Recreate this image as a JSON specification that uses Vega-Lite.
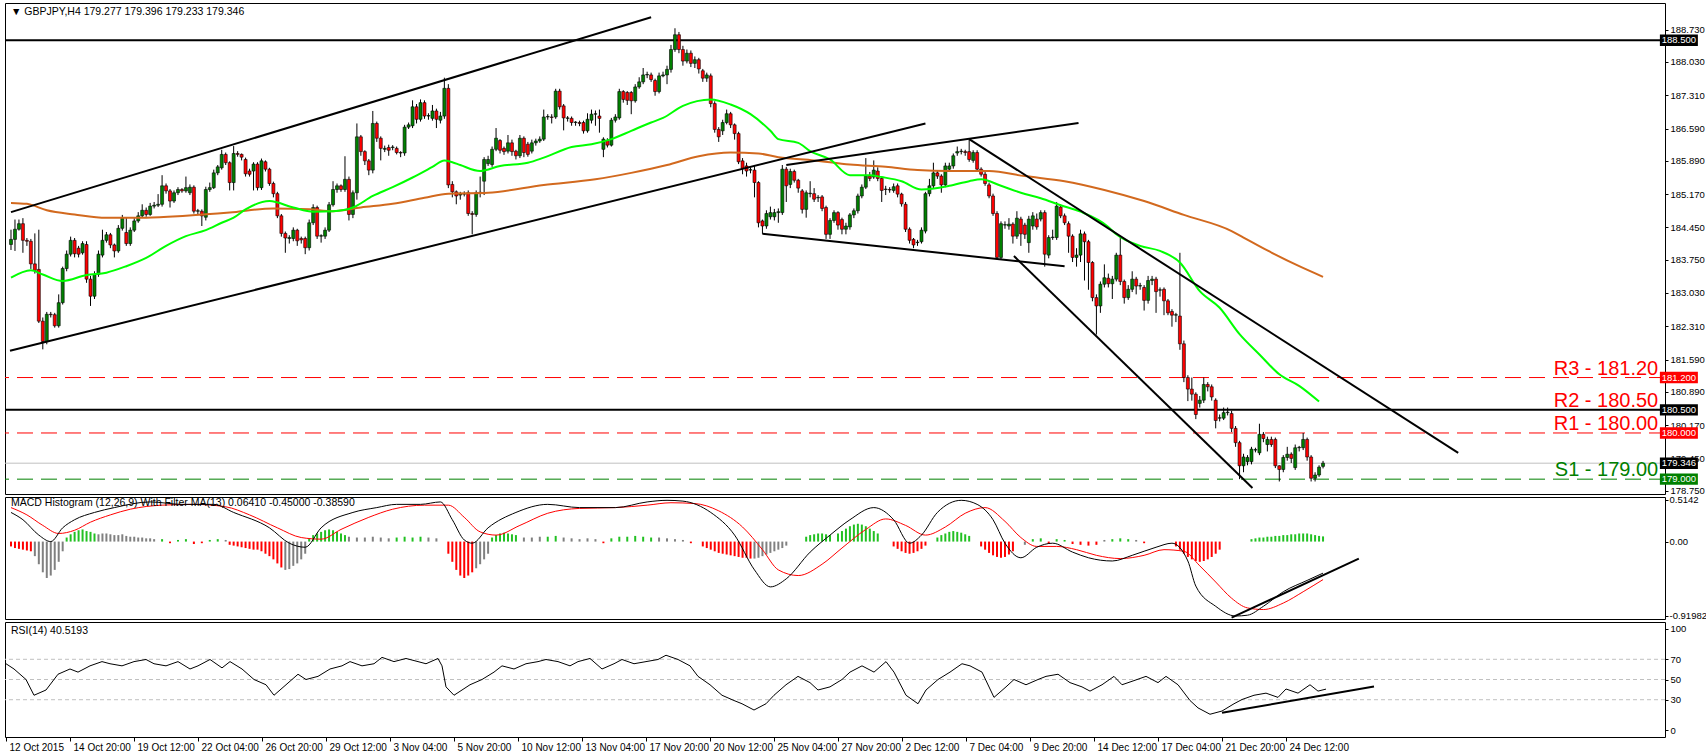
{
"$schema":"https://vega.github.io/schema/vega-lite/v6.json",
"background":"white",
"padding":{"left":3,"top":2,"right":0,"bottom":0},
"spacing":3,
"bounds":"flush",
"config":{"view":{"stroke":"black","strokeWidth":1},"axis":{"labelFont":"Liberation Sans","labelFontSize":9.5,"labelColor":"black","tickColor":"black","domain":false,"grid":false,"labelOverlap":false},"text":{"font":"Liberation Sans"}},
"datasets":{
"candles":[
{"i":0,"o":184.08,"h":184.40,"l":183.96,"c":184.19},{"i":1,"o":184.19,"h":184.62,"l":183.94,"c":184.41},{"i":2,"o":184.41,"h":184.62,"l":184.38,"c":184.53},{"i":3,"o":184.53,"h":184.65,"l":183.90,"c":184.17},{"i":4,"o":184.17,"h":184.22,"l":184.05,"c":184.15},{"i":5,"o":184.15,"h":184.20,"l":183.55,"c":183.66},{"i":6,"o":183.66,"h":184.32,"l":183.45,"c":183.52},{"i":7,"o":183.54,"h":184.40,"l":182.38,"c":182.42},{"i":8,"o":182.42,"h":182.50,"l":181.81,"c":181.98},{"i":9,"o":181.98,"h":182.62,"l":181.92,"c":182.57},
{"i":10,"o":182.57,"h":182.62,"l":182.50,"c":182.56},{"i":11,"o":182.56,"h":182.60,"l":182.28,"c":182.32},{"i":12,"o":182.32,"h":183.00,"l":182.28,"c":182.82},{"i":13,"o":182.82,"h":183.60,"l":182.78,"c":183.56},{"i":14,"o":183.56,"h":183.95,"l":183.50,"c":183.87},{"i":15,"o":183.87,"h":184.25,"l":183.82,"c":184.17},{"i":16,"o":184.17,"h":184.22,"l":183.80,"c":183.88},{"i":17,"o":184.00,"h":184.05,"l":183.80,"c":183.87},{"i":18,"o":183.90,"h":184.15,"l":183.86,"c":184.10},{"i":19,"o":184.08,"h":184.15,"l":183.25,"c":183.33},
{"i":20,"o":183.33,"h":183.40,"l":182.75,"c":182.96},{"i":21,"o":182.96,"h":183.50,"l":182.90,"c":183.43},{"i":22,"o":183.43,"h":183.95,"l":183.38,"c":183.87},{"i":23,"o":183.85,"h":184.40,"l":183.80,"c":184.17},{"i":24,"o":184.17,"h":184.35,"l":184.12,"c":184.29},{"i":25,"o":184.29,"h":184.33,"l":184.00,"c":184.07},{"i":26,"o":184.07,"h":184.10,"l":183.80,"c":183.94},{"i":27,"o":183.94,"h":184.50,"l":183.90,"c":184.43},{"i":28,"o":184.43,"h":184.72,"l":184.38,"c":184.65},{"i":29,"o":184.34,"h":184.66,"l":184.05,"c":184.10},
{"i":30,"o":184.10,"h":184.45,"l":184.05,"c":184.39},{"i":31,"o":184.39,"h":184.65,"l":184.35,"c":184.59},{"i":32,"o":184.59,"h":184.78,"l":184.55,"c":184.70},{"i":33,"o":184.70,"h":184.95,"l":184.66,"c":184.82},{"i":34,"o":184.82,"h":184.88,"l":184.68,"c":184.73},{"i":35,"o":184.73,"h":184.98,"l":184.70,"c":184.91},{"i":36,"o":184.91,"h":185.00,"l":184.86,"c":184.93},{"i":37,"o":184.93,"h":185.17,"l":184.89,"c":184.95},{"i":38,"o":184.95,"h":185.58,"l":184.90,"c":185.35},{"i":39,"o":185.35,"h":185.40,"l":185.18,"c":185.24},
{"i":40,"o":185.24,"h":185.28,"l":184.88,"c":185.02},{"i":41,"o":185.02,"h":185.25,"l":184.98,"c":185.20},{"i":42,"o":185.20,"h":185.32,"l":185.15,"c":185.27},{"i":43,"o":185.27,"h":185.30,"l":185.20,"c":185.24},{"i":44,"o":185.24,"h":185.55,"l":185.20,"c":185.31},{"i":45,"o":185.20,"h":185.38,"l":185.15,"c":185.32},{"i":46,"o":185.32,"h":185.36,"l":184.75,"c":184.80},{"i":47,"o":184.80,"h":184.85,"l":184.72,"c":184.81},{"i":48,"o":184.80,"h":184.84,"l":184.48,"c":184.70},{"i":49,"o":184.67,"h":185.33,"l":184.60,"c":185.27},
{"i":50,"o":185.27,"h":185.42,"l":185.22,"c":185.31},{"i":51,"o":185.31,"h":185.70,"l":185.28,"c":185.63},{"i":52,"o":185.63,"h":185.80,"l":185.58,"c":185.76},{"i":53,"o":185.74,"h":186.13,"l":185.70,"c":186.03},{"i":54,"o":186.03,"h":186.07,"l":185.80,"c":185.85},{"i":55,"o":185.85,"h":185.88,"l":185.25,"c":185.42},{"i":56,"o":185.42,"h":186.21,"l":185.25,"c":186.05},{"i":57,"o":186.05,"h":186.10,"l":185.98,"c":186.03},{"i":58,"o":186.03,"h":186.05,"l":185.90,"c":185.97},{"i":59,"o":185.92,"h":185.96,"l":185.55,"c":185.61},
{"i":60,"o":185.67,"h":185.72,"l":185.55,"c":185.60},{"i":61,"o":185.67,"h":185.86,"l":185.25,"c":185.82},{"i":62,"o":185.82,"h":185.86,"l":185.25,"c":185.31},{"i":63,"o":185.31,"h":185.94,"l":185.26,"c":185.89},{"i":64,"o":185.87,"h":185.90,"l":185.66,"c":185.71},{"i":65,"o":185.71,"h":185.74,"l":185.35,"c":185.40},{"i":66,"o":185.40,"h":185.44,"l":185.10,"c":185.18},{"i":67,"o":185.18,"h":185.22,"l":184.65,"c":184.70},{"i":68,"o":184.70,"h":184.74,"l":184.25,"c":184.32},{"i":69,"o":184.32,"h":184.36,"l":183.90,"c":184.22},
{"i":70,"o":184.21,"h":184.28,"l":184.10,"c":184.23},{"i":71,"o":184.21,"h":184.45,"l":184.15,"c":184.39},{"i":72,"o":184.39,"h":184.42,"l":184.05,"c":184.16},{"i":73,"o":184.21,"h":184.25,"l":184.10,"c":184.18},{"i":74,"o":184.21,"h":184.25,"l":183.87,"c":184.01},{"i":75,"o":184.01,"h":184.62,"l":183.95,"c":184.55},{"i":76,"o":184.55,"h":184.95,"l":184.50,"c":184.88},{"i":77,"o":184.88,"h":184.92,"l":184.20,"c":184.26},{"i":78,"o":184.26,"h":184.30,"l":184.12,"c":184.27},{"i":79,"o":184.26,"h":184.45,"l":184.20,"c":184.39},
{"i":80,"o":184.39,"h":185.00,"l":184.35,"c":184.94},{"i":81,"o":184.94,"h":185.45,"l":184.90,"c":185.27},{"i":82,"o":185.27,"h":185.40,"l":185.20,"c":185.35},{"i":83,"o":185.35,"h":185.38,"l":185.22,"c":185.27},{"i":84,"o":185.27,"h":185.99,"l":185.22,"c":185.49},{"i":85,"o":185.49,"h":185.55,"l":184.60,"c":184.73},{"i":86,"o":184.73,"h":185.25,"l":184.65,"c":185.20},{"i":87,"o":185.20,"h":186.70,"l":185.05,"c":186.41},{"i":88,"o":186.41,"h":186.45,"l":186.00,"c":186.09},{"i":89,"o":186.09,"h":186.12,"l":185.80,"c":185.89},
{"i":90,"o":185.89,"h":185.93,"l":185.58,"c":185.69},{"i":91,"o":185.69,"h":186.97,"l":185.62,"c":186.70},{"i":92,"o":186.70,"h":186.74,"l":186.30,"c":186.38},{"i":93,"o":186.38,"h":186.42,"l":185.90,"c":186.16},{"i":94,"o":186.14,"h":186.22,"l":186.08,"c":186.16},{"i":95,"o":186.18,"h":186.24,"l":186.00,"c":186.12},{"i":96,"o":186.18,"h":186.23,"l":186.12,"c":186.19},{"i":97,"o":186.16,"h":186.20,"l":186.03,"c":186.07},{"i":98,"o":186.07,"h":186.10,"l":185.97,"c":186.06},{"i":99,"o":186.06,"h":186.67,"l":186.00,"c":186.62},
{"i":100,"o":186.62,"h":186.72,"l":186.58,"c":186.67},{"i":101,"o":186.65,"h":187.20,"l":186.60,"c":187.06},{"i":102,"o":187.06,"h":187.12,"l":186.70,"c":186.79},{"i":103,"o":186.79,"h":187.22,"l":186.74,"c":187.15},{"i":104,"o":187.15,"h":187.20,"l":186.80,"c":186.86},{"i":105,"o":186.86,"h":186.92,"l":186.78,"c":186.87},{"i":106,"o":186.81,"h":187.10,"l":186.76,"c":186.97},{"i":107,"o":186.97,"h":187.02,"l":186.60,"c":186.79},{"i":108,"o":186.77,"h":186.95,"l":186.70,"c":186.86},{"i":109,"o":186.86,"h":187.69,"l":186.80,"c":187.46},
{"i":110,"o":187.46,"h":187.55,"l":185.30,"c":185.37},{"i":111,"o":185.38,"h":185.45,"l":185.10,"c":185.22},{"i":112,"o":185.22,"h":185.25,"l":184.95,"c":185.13},{"i":113,"o":185.15,"h":185.22,"l":185.05,"c":185.17},{"i":114,"o":185.17,"h":185.23,"l":185.12,"c":185.18},{"i":115,"o":185.20,"h":185.25,"l":184.70,"c":184.75},{"i":116,"o":184.75,"h":184.80,"l":184.30,"c":184.73},{"i":117,"o":184.73,"h":185.25,"l":184.68,"c":185.20},{"i":118,"o":185.20,"h":185.55,"l":185.10,"c":185.21},{"i":119,"o":185.45,"h":185.97,"l":185.15,"c":185.92},
{"i":120,"o":185.83,"h":186.00,"l":185.78,"c":185.92},{"i":121,"o":185.81,"h":186.20,"l":185.76,"c":186.14},{"i":122,"o":186.14,"h":186.60,"l":186.10,"c":186.38},{"i":123,"o":186.33,"h":186.36,"l":186.05,"c":186.12},{"i":124,"o":186.16,"h":186.20,"l":186.02,"c":186.09},{"i":125,"o":186.10,"h":186.45,"l":186.05,"c":186.28},{"i":126,"o":186.28,"h":186.35,"l":186.00,"c":186.09},{"i":127,"o":186.10,"h":186.13,"l":185.92,"c":186.00},{"i":128,"o":186.00,"h":186.45,"l":185.95,"c":186.38},{"i":129,"o":186.38,"h":186.42,"l":185.97,"c":186.07},
{"i":130,"o":186.25,"h":186.30,"l":185.98,"c":186.03},{"i":131,"o":186.10,"h":186.35,"l":186.05,"c":186.28},{"i":132,"o":186.28,"h":186.37,"l":186.22,"c":186.32},{"i":133,"o":186.32,"h":186.42,"l":186.28,"c":186.36},{"i":134,"o":186.36,"h":187.00,"l":186.32,"c":186.84},{"i":135,"o":186.84,"h":186.90,"l":186.78,"c":186.85},{"i":136,"o":186.84,"h":186.90,"l":186.70,"c":186.83},{"i":137,"o":186.84,"h":187.45,"l":186.80,"c":187.40},{"i":138,"o":187.40,"h":187.45,"l":187.00,"c":187.06},{"i":139,"o":187.08,"h":187.12,"l":186.55,"c":186.82},
{"i":140,"o":186.81,"h":186.86,"l":186.74,"c":186.82},{"i":141,"o":186.81,"h":186.85,"l":186.65,"c":186.72},{"i":142,"o":186.72,"h":186.75,"l":186.65,"c":186.73},{"i":143,"o":186.72,"h":186.76,"l":186.64,"c":186.70},{"i":144,"o":186.72,"h":186.76,"l":186.48,"c":186.54},{"i":145,"o":186.54,"h":186.92,"l":186.50,"c":186.79},{"i":146,"o":186.77,"h":187.00,"l":186.70,"c":186.90},{"i":147,"o":186.90,"h":186.98,"l":186.65,"c":186.91},{"i":148,"o":186.86,"h":187.00,"l":186.50,"c":186.81},{"i":149,"o":186.14,"h":186.40,"l":185.97,"c":186.36},
{"i":150,"o":186.33,"h":186.38,"l":186.18,"c":186.23},{"i":151,"o":186.23,"h":186.82,"l":186.20,"c":186.77},{"i":152,"o":186.77,"h":186.90,"l":186.72,"c":186.84},{"i":153,"o":186.82,"h":187.45,"l":186.78,"c":187.39},{"i":154,"o":187.39,"h":187.42,"l":187.15,"c":187.22},{"i":155,"o":187.37,"h":187.40,"l":187.10,"c":187.20},{"i":156,"o":187.37,"h":187.40,"l":186.90,"c":187.19},{"i":157,"o":187.19,"h":187.55,"l":187.15,"c":187.49},{"i":158,"o":187.49,"h":187.70,"l":187.45,"c":187.60},{"i":159,"o":187.60,"h":187.90,"l":187.55,"c":187.75},
{"i":160,"o":187.75,"h":187.82,"l":187.68,"c":187.76},{"i":161,"o":187.75,"h":187.80,"l":187.60,"c":187.65},{"i":162,"o":187.63,"h":187.67,"l":187.30,"c":187.39},{"i":163,"o":187.39,"h":187.80,"l":187.35,"c":187.73},{"i":164,"o":187.73,"h":187.82,"l":187.70,"c":187.75},{"i":165,"o":187.75,"h":187.95,"l":187.55,"c":187.87},{"i":166,"o":187.87,"h":188.40,"l":187.80,"c":188.30},{"i":167,"o":188.30,"h":188.76,"l":188.25,"c":188.62},{"i":168,"o":188.62,"h":188.68,"l":188.22,"c":188.30},{"i":169,"o":188.30,"h":188.38,"l":187.95,"c":188.05},
{"i":170,"o":188.05,"h":188.30,"l":188.00,"c":188.22},{"i":171,"o":188.22,"h":188.28,"l":187.92,"c":188.00},{"i":172,"o":188.00,"h":188.15,"l":187.90,"c":188.08},{"i":173,"o":188.08,"h":188.12,"l":187.78,"c":187.88},{"i":174,"o":187.84,"h":187.88,"l":187.60,"c":187.68},{"i":175,"o":187.68,"h":187.80,"l":187.60,"c":187.75},{"i":176,"o":187.73,"h":187.78,"l":187.05,"c":187.13},{"i":177,"o":187.13,"h":187.18,"l":186.50,"c":186.57},{"i":178,"o":186.57,"h":186.62,"l":186.30,"c":186.41},{"i":179,"o":186.54,"h":186.78,"l":186.45,"c":186.72},
{"i":180,"o":186.72,"h":187.00,"l":186.68,"c":186.91},{"i":181,"o":186.91,"h":186.95,"l":186.60,"c":186.67},{"i":182,"o":186.67,"h":186.70,"l":186.35,"c":186.48},{"i":183,"o":186.48,"h":186.52,"l":185.82,"c":185.87},{"i":184,"o":185.89,"h":185.95,"l":185.60,"c":185.73},{"i":185,"o":185.78,"h":185.85,"l":185.55,"c":185.67},{"i":186,"o":185.69,"h":185.75,"l":185.62,"c":185.70},{"i":187,"o":185.69,"h":185.80,"l":185.10,"c":185.42},{"i":188,"o":185.42,"h":185.45,"l":184.45,"c":184.55},{"i":189,"o":184.59,"h":184.62,"l":184.31,"c":184.48},
{"i":190,"o":184.48,"h":184.82,"l":184.42,"c":184.75},{"i":191,"o":184.68,"h":184.90,"l":184.62,"c":184.77},{"i":192,"o":184.68,"h":184.85,"l":184.60,"c":184.77},{"i":193,"o":184.77,"h":184.86,"l":184.55,"c":184.79},{"i":194,"o":184.77,"h":185.80,"l":184.72,"c":185.71},{"i":195,"o":185.71,"h":185.76,"l":185.00,"c":185.35},{"i":196,"o":185.38,"h":185.72,"l":185.30,"c":185.66},{"i":197,"o":185.66,"h":185.70,"l":185.42,"c":185.47},{"i":198,"o":185.47,"h":185.50,"l":185.20,"c":185.30},{"i":199,"o":185.24,"h":185.28,"l":184.75,"c":184.84},
{"i":200,"o":184.84,"h":185.25,"l":184.66,"c":185.20},{"i":201,"o":185.18,"h":185.45,"l":185.10,"c":185.19},{"i":202,"o":185.18,"h":185.30,"l":185.00,"c":185.06},{"i":203,"o":185.09,"h":185.15,"l":185.00,"c":185.10},{"i":204,"o":185.11,"h":185.15,"l":184.80,"c":184.86},{"i":205,"o":184.88,"h":184.92,"l":184.20,"c":184.30},{"i":206,"o":184.30,"h":184.65,"l":184.20,"c":184.60},{"i":207,"o":184.60,"h":184.82,"l":184.55,"c":184.77},{"i":208,"o":184.77,"h":184.80,"l":184.40,"c":184.50},{"i":209,"o":184.62,"h":184.66,"l":184.30,"c":184.41},
{"i":210,"o":184.41,"h":184.55,"l":184.30,"c":184.48},{"i":211,"o":184.46,"h":184.76,"l":184.40,"c":184.72},{"i":212,"o":184.72,"h":184.86,"l":184.65,"c":184.81},{"i":213,"o":184.81,"h":185.18,"l":184.75,"c":185.13},{"i":214,"o":185.13,"h":185.38,"l":185.08,"c":185.32},{"i":215,"o":185.32,"h":185.95,"l":185.28,"c":185.56},{"i":216,"o":185.56,"h":185.65,"l":185.45,"c":185.51},{"i":217,"o":185.54,"h":185.90,"l":185.50,"c":185.69},{"i":218,"o":185.67,"h":185.75,"l":185.45,"c":185.51},{"i":219,"o":185.51,"h":185.55,"l":185.00,"c":185.25},
{"i":220,"o":185.27,"h":185.35,"l":185.15,"c":185.28},{"i":221,"o":185.27,"h":185.32,"l":185.20,"c":185.26},{"i":222,"o":185.25,"h":185.40,"l":185.20,"c":185.33},{"i":223,"o":185.35,"h":185.40,"l":185.10,"c":185.17},{"i":224,"o":185.17,"h":185.20,"l":184.90,"c":184.96},{"i":225,"o":184.95,"h":185.00,"l":184.35,"c":184.41},{"i":226,"o":184.41,"h":184.45,"l":184.10,"c":184.17},{"i":227,"o":184.19,"h":184.22,"l":184.00,"c":184.07},{"i":228,"o":184.12,"h":184.18,"l":184.05,"c":184.13},{"i":229,"o":184.14,"h":184.45,"l":184.10,"c":184.39},
{"i":230,"o":184.37,"h":185.22,"l":184.32,"c":185.18},{"i":231,"o":185.18,"h":185.50,"l":185.12,"c":185.35},{"i":232,"o":185.35,"h":185.85,"l":185.30,"c":185.63},{"i":233,"o":185.63,"h":185.68,"l":185.50,"c":185.56},{"i":234,"o":185.56,"h":185.60,"l":185.20,"c":185.37},{"i":235,"o":185.37,"h":185.85,"l":185.32,"c":185.78},{"i":236,"o":185.71,"h":185.85,"l":185.66,"c":185.78},{"i":237,"o":185.78,"h":186.05,"l":185.72,"c":186.00},{"i":238,"o":186.06,"h":186.20,"l":186.00,"c":186.09},{"i":239,"o":186.09,"h":186.15,"l":186.03,"c":186.10},
{"i":240,"o":186.09,"h":186.13,"l":186.00,"c":186.07},{"i":241,"o":186.09,"h":186.36,"l":185.87,"c":185.92},{"i":242,"o":185.90,"h":186.12,"l":185.85,"c":186.07},{"i":243,"o":186.07,"h":186.12,"l":185.66,"c":185.71},{"i":244,"o":185.71,"h":185.75,"l":185.55,"c":185.60},{"i":245,"o":185.60,"h":185.65,"l":185.35,"c":185.40},{"i":246,"o":185.37,"h":185.42,"l":185.08,"c":185.13},{"i":247,"o":185.13,"h":185.18,"l":184.70,"c":184.75},{"i":248,"o":184.75,"h":184.80,"l":183.76,"c":183.80},{"i":249,"o":183.80,"h":184.58,"l":183.75,"c":184.53},
{"i":250,"o":184.50,"h":184.58,"l":184.42,"c":184.51},{"i":251,"o":184.48,"h":184.65,"l":184.40,"c":184.52},{"i":252,"o":184.52,"h":184.56,"l":184.10,"c":184.26},{"i":253,"o":184.26,"h":184.80,"l":184.20,"c":184.65},{"i":254,"o":184.63,"h":184.68,"l":184.05,"c":184.31},{"i":255,"o":184.50,"h":184.55,"l":184.20,"c":184.30},{"i":256,"o":184.12,"h":184.70,"l":183.90,"c":184.63},{"i":257,"o":184.48,"h":184.78,"l":184.40,"c":184.70},{"i":258,"o":184.63,"h":184.75,"l":184.40,"c":184.46},{"i":259,"o":184.63,"h":184.82,"l":184.58,"c":184.77},
{"i":260,"o":184.77,"h":184.82,"l":183.60,"c":183.87},{"i":261,"o":183.85,"h":184.28,"l":183.78,"c":184.23},{"i":262,"o":184.23,"h":184.40,"l":184.18,"c":184.24},{"i":263,"o":184.23,"h":185.00,"l":184.18,"c":184.91},{"i":264,"o":184.89,"h":184.95,"l":184.65,"c":184.70},{"i":265,"o":184.70,"h":184.75,"l":184.50,"c":184.55},{"i":266,"o":184.53,"h":184.58,"l":183.90,"c":184.26},{"i":267,"o":184.26,"h":184.30,"l":183.70,"c":183.80},{"i":268,"o":183.80,"h":184.00,"l":183.60,"c":183.85},{"i":269,"o":183.85,"h":184.40,"l":183.70,"c":184.31},
{"i":270,"o":184.31,"h":184.36,"l":183.30,"c":184.14},{"i":271,"o":184.14,"h":184.18,"l":183.10,"c":183.69},{"i":272,"o":183.69,"h":183.72,"l":182.85,"c":182.93},{"i":273,"o":182.93,"h":183.00,"l":182.13,"c":182.75},{"i":274,"o":182.75,"h":183.28,"l":182.60,"c":183.22},{"i":275,"o":183.22,"h":183.65,"l":183.15,"c":183.36},{"i":276,"o":183.35,"h":183.45,"l":183.15,"c":183.23},{"i":277,"o":183.23,"h":183.40,"l":182.90,"c":183.33},{"i":278,"o":183.33,"h":183.90,"l":183.28,"c":183.85},{"i":279,"o":183.85,"h":184.23,"l":183.20,"c":183.28},
{"i":280,"o":183.28,"h":183.32,"l":182.80,"c":182.93},{"i":281,"o":182.93,"h":183.20,"l":182.88,"c":183.11},{"i":282,"o":183.11,"h":183.50,"l":183.05,"c":183.33},{"i":283,"o":183.33,"h":183.38,"l":183.00,"c":183.18},{"i":284,"o":183.18,"h":183.25,"l":183.10,"c":183.19},{"i":285,"o":183.15,"h":183.20,"l":182.65,"c":182.87},{"i":286,"o":182.87,"h":183.40,"l":182.80,"c":183.30},{"i":287,"o":183.30,"h":183.40,"l":183.20,"c":183.33},{"i":288,"o":183.33,"h":183.38,"l":182.60,"c":183.06},{"i":289,"o":183.09,"h":183.15,"l":182.95,"c":183.10},
{"i":290,"o":183.11,"h":183.15,"l":182.55,"c":182.86},{"i":291,"o":182.86,"h":182.90,"l":182.55,"c":182.60},{"i":292,"o":182.63,"h":182.68,"l":182.30,"c":182.55},{"i":293,"o":182.55,"h":182.60,"l":182.40,"c":182.56},{"i":294,"o":182.53,"h":183.90,"l":181.80,"c":181.93},{"i":295,"o":181.93,"h":182.00,"l":181.10,"c":181.20},{"i":296,"o":181.20,"h":181.25,"l":180.69,"c":180.95},{"i":297,"o":180.95,"h":181.20,"l":180.70,"c":180.84},{"i":298,"o":180.84,"h":180.88,"l":180.30,"c":180.40},{"i":299,"o":180.64,"h":180.80,"l":180.55,"c":180.71},
{"i":300,"o":180.71,"h":181.20,"l":180.65,"c":181.05},{"i":301,"o":181.05,"h":181.10,"l":180.90,"c":181.00},{"i":302,"o":181.00,"h":181.05,"l":180.70,"c":180.78},{"i":303,"o":180.71,"h":180.75,"l":180.10,"c":180.27},{"i":304,"o":180.32,"h":180.40,"l":180.25,"c":180.33},{"i":305,"o":180.32,"h":180.55,"l":180.28,"c":180.44},{"i":306,"o":180.44,"h":180.55,"l":180.38,"c":180.45},{"i":307,"o":180.42,"h":180.48,"l":180.02,"c":180.10},{"i":308,"o":180.10,"h":180.15,"l":179.70,"c":179.79},{"i":309,"o":179.79,"h":179.83,"l":179.00,"c":179.29},
{"i":310,"o":179.29,"h":179.55,"l":179.15,"c":179.48},{"i":311,"o":179.38,"h":179.52,"l":179.30,"c":179.47},{"i":312,"o":179.38,"h":179.70,"l":179.32,"c":179.65},{"i":313,"o":179.63,"h":179.68,"l":179.58,"c":179.64},{"i":314,"o":179.57,"h":180.20,"l":179.52,"c":179.97},{"i":315,"o":179.97,"h":180.02,"l":179.80,"c":179.88},{"i":316,"o":179.75,"h":179.92,"l":179.60,"c":179.86},{"i":317,"o":179.86,"h":179.92,"l":179.70,"c":179.75},{"i":318,"o":179.86,"h":179.90,"l":179.24,"c":179.29},{"i":319,"o":179.29,"h":179.30,"l":178.95,"c":179.21},
{"i":320,"o":179.21,"h":179.52,"l":179.15,"c":179.47},{"i":321,"o":179.47,"h":179.70,"l":179.40,"c":179.54},{"i":322,"o":179.54,"h":179.58,"l":179.35,"c":179.45},{"i":323,"o":179.25,"h":179.75,"l":179.20,"c":179.68},{"i":324,"o":179.68,"h":179.72,"l":179.60,"c":179.69},{"i":325,"o":179.68,"h":180.00,"l":179.63,"c":179.86},{"i":326,"o":179.86,"h":179.90,"l":179.40,"c":179.48},{"i":327,"o":179.48,"h":179.52,"l":178.95,"c":179.02},{"i":328,"o":179.02,"h":179.15,"l":178.95,"c":179.09},{"i":329,"o":179.09,"h":179.30,"l":179.05,"c":179.26},
{"i":330,"o":179.277,"h":179.396,"l":179.233,"c":179.346}
],
"ma50":[{"i":0,"v":183.36},{"i":5,"v":183.52},{"i":8,"v":183.43},{"i":13,"v":183.29},{"i":19,"v":183.42},{"i":24,"v":183.47},{"i":29,"v":183.61},{"i":34,"v":183.79},{"i":39,"v":184.05},{"i":44,"v":184.26},{"i":49,"v":184.39},{"i":53,"v":184.55},{"i":56,"v":184.66},{"i":59,"v":184.84},{"i":65,"v":185.02},{"i":71,"v":184.88},{"i":76,"v":184.79},{"i":81,"v":184.80},{"i":86,"v":184.88},{"i":91,"v":185.13},{"i":96,"v":185.32},{"i":101,"v":185.53},{"i":106,"v":185.76},{"i":109,"v":185.90},{"i":111,"v":185.86},{"i":113,"v":185.80},{"i":118,"v":185.67},{"i":123,"v":185.78},{"i":130,"v":185.85},{"i":134,"v":185.96},{"i":141,"v":186.19},{"i":146,"v":186.25},{"i":151,"v":186.36},{"i":156,"v":186.54},{"i":161,"v":186.72},{"i":164,"v":186.82},{"i":169,"v":187.08},{"i":176,"v":187.22},{"i":181,"v":187.11},{"i":186,"v":186.90},{"i":191,"v":186.54},{"i":193,"v":186.36},{"i":198,"v":186.28},{"i":201,"v":186.10},{"i":206,"v":185.92},{"i":211,"v":185.58},{"i":216,"v":185.58},{"i":219,"v":185.54},{"i":224,"v":185.45},{"i":229,"v":185.27},{"i":236,"v":185.35},{"i":241,"v":185.45},{"i":244,"v":185.49},{"i":249,"v":185.35},{"i":254,"v":185.20},{"i":259,"v":185.08},{"i":264,"v":184.93},{"i":269,"v":184.79},{"i":276,"v":184.46},{"i":278,"v":184.30},{"i":284,"v":184.05},{"i":289,"v":183.94},{"i":294,"v":183.69},{"i":299,"v":183.07},{"i":304,"v":182.71},{"i":309,"v":182.14},{"i":314,"v":181.70},{"i":319,"v":181.27},{"i":324,"v":181.02},{"i":329,"v":180.68}],
"ma200":[{"i":0,"v":184.98},{"i":4,"v":184.96},{"i":9,"v":184.82},{"i":16,"v":184.73},{"i":24,"v":184.66},{"i":34,"v":184.66},{"i":44,"v":184.70},{"i":55,"v":184.77},{"i":66,"v":184.86},{"i":75,"v":184.84},{"i":81,"v":184.80},{"i":88,"v":184.88},{"i":96,"v":184.96},{"i":104,"v":185.09},{"i":110,"v":185.18},{"i":120,"v":185.20},{"i":134,"v":185.37},{"i":147,"v":185.49},{"i":156,"v":185.63},{"i":165,"v":185.80},{"i":173,"v":185.99},{"i":181,"v":186.07},{"i":188,"v":186.05},{"i":193,"v":185.97},{"i":202,"v":185.90},{"i":211,"v":185.81},{"i":220,"v":185.76},{"i":228,"v":185.69},{"i":236,"v":185.67},{"i":246,"v":185.67},{"i":255,"v":185.56},{"i":265,"v":185.45},{"i":275,"v":185.26},{"i":285,"v":185.02},{"i":295,"v":184.72},{"i":307,"v":184.37},{"i":310,"v":184.23},{"i":316,"v":183.95},{"i":324,"v":183.61},{"i":330,"v":183.38}],
"trend":[{"id":"a","i":0,"p":184.78},{"id":"a","i":161,"p":189.00},{"id":"b","i":-0.25,"p":181.78},{"id":"b","i":230,"p":186.70},{"id":"c","i":195,"p":185.80},{"id":"c","i":268.5,"p":186.71},{"id":"d","i":189,"p":184.31},{"id":"d","i":265,"p":183.61},{"id":"e","i":241,"p":186.36},{"id":"e","i":364,"p":179.57},{"id":"f","i":252.25,"p":183.83},{"id":"f","i":312.25,"p":178.81}],
"levels":[{"p":188.5,"t":"line"},{"p":180.5,"t":"line"},{"p":181.2,"t":"res"},{"p":180.0,"t":"res"},{"p":179.0,"t":"sup"},{"p":179.346,"t":"bid"}],
"sr":[{"p":181.2,"label":"R3 - 181.20","t":"res"},{"p":180.5,"label":"R2 - 180.50","t":"res"},{"p":180.0,"label":"R1 - 180.00","t":"res"},{"p":179.0,"label":"S1 - 179.00","t":"sup"}],
"tags":[{"p":188.5,"txt":"188.500","t":"line"},{"p":181.2,"txt":"181.200","t":"res"},{"p":180.5,"txt":"180.500","t":"line"},{"p":180.0,"txt":"180.000","t":"res"},{"p":179.346,"txt":"179.346","t":"line"},{"p":179.0,"txt":"179.000","t":"sup"}],
"macd":[{"i":0,"v":0.36},{"i":3,"v":0.27},{"i":7,"v":0.08},{"i":10,"v":0.0},{"i":13,"v":0.17},{"i":16,"v":0.27},{"i":21,"v":0.36},{"i":26,"v":0.42},{"i":35,"v":0.49},{"i":43,"v":0.46},{"i":51,"v":0.46},{"i":56,"v":0.36},{"i":65,"v":0.17},{"i":70,"v":-0.02},{"i":74,"v":-0.07},{"i":78,"v":0.17},{"i":86,"v":0.36},{"i":92,"v":0.42},{"i":97,"v":0.46},{"i":103,"v":0.46},{"i":108,"v":0.49},{"i":111,"v":0.27},{"i":114,"v":0.02},{"i":116,"v":-0.02},{"i":120,"v":0.17},{"i":127,"v":0.36},{"i":135,"v":0.46},{"i":143,"v":0.42},{"i":152,"v":0.42},{"i":160,"v":0.49},{"i":165,"v":0.51},{"i":169,"v":0.50},{"i":176,"v":0.36},{"i":182,"v":0.08},{"i":187,"v":-0.35},{"i":191,"v":-0.56},{"i":195,"v":-0.46},{"i":201,"v":-0.13},{"i":206,"v":0.08},{"i":211,"v":0.27},{"i":217,"v":0.42},{"i":222,"v":0.27},{"i":226,"v":-0.02},{"i":229,"v":0.08},{"i":233,"v":0.36},{"i":239,"v":0.51},{"i":243,"v":0.46},{"i":247,"v":0.27},{"i":250,"v":-0.02},{"i":254,"v":-0.20},{"i":258,"v":-0.07},{"i":262,"v":-0.02},{"i":267,"v":-0.13},{"i":271,"v":-0.20},{"i":277,"v":-0.24},{"i":282,"v":-0.17},{"i":288,"v":-0.07},{"i":292,"v":-0.02},{"i":296,"v":-0.24},{"i":298,"v":-0.55},{"i":303,"v":-0.80},{"i":308,"v":-0.92},{"i":311,"v":-0.91},{"i":315,"v":-0.80},{"i":320,"v":-0.62},{"i":326,"v":-0.48},{"i":330,"v":-0.39}],
"signal":[{"i":0,"v":0.42},{"i":4,"v":0.33},{"i":8,"v":0.20},{"i":12,"v":0.10},{"i":16,"v":0.14},{"i":20,"v":0.24},{"i":25,"v":0.33},{"i":30,"v":0.40},{"i":38,"v":0.45},{"i":46,"v":0.46},{"i":54,"v":0.43},{"i":60,"v":0.33},{"i":67,"v":0.17},{"i":73,"v":0.05},{"i":78,"v":0.03},{"i":83,"v":0.15},{"i":90,"v":0.30},{"i":96,"v":0.40},{"i":104,"v":0.45},{"i":110,"v":0.45},{"i":114,"v":0.30},{"i":118,"v":0.12},{"i":122,"v":0.08},{"i":128,"v":0.20},{"i":135,"v":0.35},{"i":143,"v":0.41},{"i":152,"v":0.42},{"i":160,"v":0.45},{"i":166,"v":0.48},{"i":172,"v":0.47},{"i":178,"v":0.38},{"i":184,"v":0.18},{"i":189,"v":-0.10},{"i":193,"v":-0.35},{"i":198,"v":-0.42},{"i":204,"v":-0.28},{"i":209,"v":-0.08},{"i":215,"v":0.15},{"i":220,"v":0.28},{"i":225,"v":0.20},{"i":230,"v":0.08},{"i":235,"v":0.18},{"i":240,"v":0.35},{"i":245,"v":0.42},{"i":250,"v":0.25},{"i":254,"v":0.05},{"i":258,"v":-0.06},{"i":263,"v":-0.06},{"i":268,"v":-0.10},{"i":273,"v":-0.17},{"i":279,"v":-0.21},{"i":285,"v":-0.17},{"i":290,"v":-0.10},{"i":295,"v":-0.12},{"i":299,"v":-0.30},{"i":303,"v":-0.50},{"i":307,"v":-0.70},{"i":311,"v":-0.82},{"i":315,"v":-0.84},{"i":320,"v":-0.76},{"i":325,"v":-0.62},{"i":330,"v":-0.47}],
"hist":[{"i":0,"h":-0.06,"d":"r"},{"i":1,"h":-0.08,"d":"r"},{"i":2,"h":-0.09,"d":"r"},{"i":3,"h":-0.10,"d":"r"},{"i":4,"h":-0.11,"d":"r"},{"i":5,"h":-0.12,"d":"r"},{"i":6,"h":-0.18,"d":"n"},{"i":7,"h":-0.28,"d":"n"},{"i":8,"h":-0.38,"d":"n"},{"i":9,"h":-0.45,"d":"n"},{"i":10,"h":-0.42,"d":"n"},{"i":11,"h":-0.35,"d":"n"},{"i":12,"h":-0.25,"d":"n"},{"i":13,"h":-0.12,"d":"n"},{"i":14,"h":0.05,"d":"g"},{"i":15,"h":0.09,"d":"g"},{"i":16,"h":0.12,"d":"g"},{"i":17,"h":0.14,"d":"g"},{"i":18,"h":0.15,"d":"g"},{"i":19,"h":0.13,"d":"g"},{"i":20,"h":0.12,"d":"g"},{"i":21,"h":0.10,"d":"g"},{"i":22,"h":0.09,"d":"n"},{"i":23,"h":0.10,"d":"n"},{"i":24,"h":0.10,"d":"n"},{"i":25,"h":0.09,"d":"n"},{"i":26,"h":0.08,"d":"n"},{"i":27,"h":0.08,"d":"n"},{"i":28,"h":0.09,"d":"n"},{"i":29,"h":0.07,"d":"n"},{"i":30,"h":0.06,"d":"n"},{"i":31,"h":0.06,"d":"n"},{"i":32,"h":0.05,"d":"n"},{"i":33,"h":0.05,"d":"n"},{"i":34,"h":0.04,"d":"n"},{"i":35,"h":0.04,"d":"n"},{"i":36,"h":0.03,"d":"n"},{"i":38,"h":0.03,"d":"g"},{"i":40,"h":-0.02,"d":"r"},{"i":42,"h":0.02,"d":"g"},{"i":44,"h":0.03,"d":"g"},{"i":46,"h":-0.03,"d":"r"},{"i":48,"h":-0.02,"d":"r"},{"i":50,"h":0.02,"d":"g"},{"i":52,"h":0.03,"d":"g"},{"i":54,"h":0.02,"d":"n"},{"i":55,"h":-0.04,"d":"r"},{"i":56,"h":-0.05,"d":"r"},{"i":57,"h":-0.06,"d":"r"},{"i":58,"h":-0.07,"d":"r"},{"i":59,"h":-0.08,"d":"r"},{"i":60,"h":-0.09,"d":"r"},{"i":61,"h":-0.10,"d":"r"},{"i":62,"h":-0.10,"d":"r"},{"i":63,"h":-0.12,"d":"r"},{"i":64,"h":-0.15,"d":"r"},{"i":65,"h":-0.18,"d":"r"},{"i":66,"h":-0.22,"d":"r"},{"i":67,"h":-0.27,"d":"r"},{"i":68,"h":-0.32,"d":"r"},{"i":69,"h":-0.35,"d":"n"},{"i":70,"h":-0.34,"d":"n"},{"i":71,"h":-0.30,"d":"n"},{"i":72,"h":-0.27,"d":"n"},{"i":73,"h":-0.22,"d":"n"},{"i":74,"h":-0.15,"d":"n"},{"i":75,"h":0.04,"d":"g"},{"i":76,"h":0.08,"d":"g"},{"i":77,"h":0.10,"d":"g"},{"i":78,"h":0.12,"d":"g"},{"i":79,"h":0.14,"d":"g"},{"i":80,"h":0.15,"d":"g"},{"i":81,"h":0.14,"d":"g"},{"i":82,"h":0.12,"d":"g"},{"i":83,"h":0.10,"d":"g"},{"i":84,"h":0.08,"d":"g"},{"i":85,"h":0.06,"d":"n"},{"i":87,"h":0.05,"d":"n"},{"i":89,"h":0.05,"d":"n"},{"i":91,"h":0.06,"d":"n"},{"i":93,"h":0.05,"d":"n"},{"i":95,"h":0.04,"d":"n"},{"i":97,"h":0.05,"d":"g"},{"i":99,"h":0.06,"d":"g"},{"i":101,"h":0.05,"d":"g"},{"i":103,"h":0.06,"d":"g"},{"i":105,"h":0.05,"d":"n"},{"i":107,"h":0.04,"d":"n"},{"i":110,"h":-0.15,"d":"r"},{"i":111,"h":-0.25,"d":"r"},{"i":112,"h":-0.35,"d":"r"},{"i":113,"h":-0.42,"d":"r"},{"i":114,"h":-0.45,"d":"r"},{"i":115,"h":-0.42,"d":"r"},{"i":116,"h":-0.38,"d":"r"},{"i":117,"h":-0.33,"d":"n"},{"i":118,"h":-0.28,"d":"n"},{"i":119,"h":-0.22,"d":"n"},{"i":120,"h":-0.15,"d":"n"},{"i":121,"h":0.05,"d":"g"},{"i":122,"h":0.08,"d":"g"},{"i":123,"h":0.10,"d":"g"},{"i":124,"h":0.11,"d":"g"},{"i":125,"h":0.10,"d":"g"},{"i":126,"h":0.09,"d":"g"},{"i":127,"h":0.08,"d":"g"},{"i":129,"h":0.05,"d":"n"},{"i":131,"h":0.05,"d":"n"},{"i":133,"h":0.06,"d":"n"},{"i":135,"h":0.06,"d":"g"},{"i":137,"h":0.07,"d":"g"},{"i":139,"h":0.05,"d":"n"},{"i":141,"h":0.04,"d":"n"},{"i":143,"h":0.03,"d":"n"},{"i":145,"h":0.04,"d":"n"},{"i":147,"h":0.03,"d":"n"},{"i":149,"h":-0.02,"d":"r"},{"i":151,"h":0.04,"d":"g"},{"i":153,"h":0.06,"d":"g"},{"i":155,"h":0.06,"d":"g"},{"i":157,"h":0.07,"d":"g"},{"i":159,"h":0.06,"d":"g"},{"i":161,"h":0.05,"d":"g"},{"i":163,"h":0.05,"d":"n"},{"i":165,"h":0.04,"d":"n"},{"i":167,"h":0.03,"d":"n"},{"i":169,"h":0.02,"d":"n"},{"i":171,"h":-0.02,"d":"r"},{"i":174,"h":-0.06,"d":"r"},{"i":175,"h":-0.08,"d":"r"},{"i":176,"h":-0.10,"d":"r"},{"i":177,"h":-0.12,"d":"r"},{"i":178,"h":-0.14,"d":"r"},{"i":179,"h":-0.15,"d":"r"},{"i":180,"h":-0.16,"d":"r"},{"i":181,"h":-0.17,"d":"r"},{"i":182,"h":-0.18,"d":"r"},{"i":183,"h":-0.19,"d":"r"},{"i":184,"h":-0.20,"d":"r"},{"i":185,"h":-0.20,"d":"r"},{"i":186,"h":-0.21,"d":"r"},{"i":187,"h":-0.21,"d":"n"},{"i":188,"h":-0.20,"d":"n"},{"i":189,"h":-0.18,"d":"n"},{"i":190,"h":-0.16,"d":"n"},{"i":191,"h":-0.14,"d":"n"},{"i":192,"h":-0.12,"d":"n"},{"i":193,"h":-0.10,"d":"n"},{"i":194,"h":-0.08,"d":"n"},{"i":195,"h":-0.05,"d":"n"},{"i":200,"h":0.06,"d":"g"},{"i":201,"h":0.08,"d":"g"},{"i":202,"h":0.09,"d":"g"},{"i":203,"h":0.10,"d":"g"},{"i":204,"h":0.10,"d":"g"},{"i":205,"h":0.09,"d":"g"},{"i":206,"h":0.08,"d":"g"},{"i":208,"h":0.10,"d":"g"},{"i":209,"h":0.13,"d":"g"},{"i":210,"h":0.16,"d":"g"},{"i":211,"h":0.19,"d":"g"},{"i":212,"h":0.21,"d":"g"},{"i":213,"h":0.22,"d":"g"},{"i":214,"h":0.21,"d":"g"},{"i":215,"h":0.19,"d":"g"},{"i":216,"h":0.16,"d":"g"},{"i":217,"h":0.13,"d":"g"},{"i":218,"h":0.10,"d":"g"},{"i":222,"h":-0.06,"d":"r"},{"i":223,"h":-0.09,"d":"r"},{"i":224,"h":-0.12,"d":"r"},{"i":225,"h":-0.14,"d":"r"},{"i":226,"h":-0.15,"d":"r"},{"i":227,"h":-0.14,"d":"r"},{"i":228,"h":-0.12,"d":"r"},{"i":229,"h":-0.09,"d":"r"},{"i":230,"h":-0.05,"d":"r"},{"i":233,"h":0.05,"d":"g"},{"i":234,"h":0.08,"d":"g"},{"i":235,"h":0.10,"d":"g"},{"i":236,"h":0.12,"d":"g"},{"i":237,"h":0.13,"d":"g"},{"i":238,"h":0.12,"d":"g"},{"i":239,"h":0.11,"d":"g"},{"i":240,"h":0.09,"d":"g"},{"i":241,"h":0.07,"d":"g"},{"i":244,"h":-0.06,"d":"r"},{"i":245,"h":-0.10,"d":"r"},{"i":246,"h":-0.14,"d":"r"},{"i":247,"h":-0.17,"d":"r"},{"i":248,"h":-0.19,"d":"r"},{"i":249,"h":-0.20,"d":"r"},{"i":250,"h":-0.19,"d":"r"},{"i":251,"h":-0.16,"d":"r"},{"i":252,"h":-0.12,"d":"r"},{"i":255,"h":-0.04,"d":"n"},{"i":257,"h":0.03,"d":"g"},{"i":259,"h":0.04,"d":"g"},{"i":261,"h":-0.03,"d":"r"},{"i":263,"h":0.03,"d":"g"},{"i":265,"h":0.02,"d":"g"},{"i":267,"h":-0.03,"d":"r"},{"i":269,"h":-0.04,"d":"r"},{"i":271,"h":-0.05,"d":"r"},{"i":273,"h":-0.04,"d":"r"},{"i":275,"h":0.02,"d":"n"},{"i":277,"h":0.03,"d":"g"},{"i":279,"h":0.04,"d":"g"},{"i":281,"h":0.03,"d":"g"},{"i":283,"h":0.02,"d":"n"},{"i":285,"h":-0.02,"d":"r"},{"i":293,"h":-0.06,"d":"r"},{"i":294,"h":-0.10,"d":"r"},{"i":295,"h":-0.15,"d":"r"},{"i":296,"h":-0.19,"d":"r"},{"i":297,"h":-0.22,"d":"r"},{"i":298,"h":-0.24,"d":"r"},{"i":299,"h":-0.25,"d":"r"},{"i":300,"h":-0.24,"d":"r"},{"i":301,"h":-0.22,"d":"r"},{"i":302,"h":-0.19,"d":"r"},{"i":303,"h":-0.15,"d":"r"},{"i":304,"h":-0.10,"d":"r"},{"i":312,"h":0.03,"d":"g"},{"i":313,"h":0.04,"d":"g"},{"i":314,"h":0.05,"d":"g"},{"i":315,"h":0.05,"d":"g"},{"i":316,"h":0.06,"d":"g"},{"i":317,"h":0.06,"d":"g"},{"i":318,"h":0.07,"d":"g"},{"i":319,"h":0.07,"d":"g"},{"i":320,"h":0.08,"d":"g"},{"i":321,"h":0.08,"d":"g"},{"i":322,"h":0.09,"d":"g"},{"i":323,"h":0.09,"d":"g"},{"i":324,"h":0.10,"d":"g"},{"i":325,"h":0.10,"d":"g"},{"i":326,"h":0.10,"d":"g"},{"i":327,"h":0.09,"d":"g"},{"i":328,"h":0.08,"d":"g"},{"i":329,"h":0.07,"d":"g"},{"i":330,"h":0.064,"d":"g"}],
"macdtrend":[{"i":307,"v":-0.94},{"i":339,"v":-0.21}],
"rsi":[{"i":0,"v":65.6},{"i":2,"v":60.4},{"i":5,"v":50},{"i":7,"v":34.4},{"i":10,"v":39.6},{"i":13,"v":55.2},{"i":16,"v":60.4},{"i":18,"v":57.3},{"i":21,"v":63.5},{"i":24,"v":67.7},{"i":26,"v":65.6},{"i":29,"v":63.5},{"i":32,"v":67.7},{"i":35,"v":69.8},{"i":37,"v":65.6},{"i":40,"v":63.5},{"i":43,"v":67.7},{"i":46,"v":60.4},{"i":48,"v":63.5},{"i":51,"v":69.8},{"i":54,"v":61.5},{"i":56,"v":67.7},{"i":59,"v":60.4},{"i":62,"v":50},{"i":65,"v":44.8},{"i":67,"v":34.4},{"i":70,"v":44.8},{"i":73,"v":55.2},{"i":75,"v":50},{"i":78,"v":53.1},{"i":81,"v":60.4},{"i":84,"v":63.5},{"i":86,"v":67.7},{"i":89,"v":63.5},{"i":92,"v":65.6},{"i":94,"v":71.9},{"i":97,"v":67.7},{"i":100,"v":70.8},{"i":103,"v":67.7},{"i":105,"v":65.6},{"i":108,"v":70.8},{"i":109,"v":63.5},{"i":110,"v":42.7},{"i":112,"v":34.4},{"i":114,"v":39.6},{"i":116,"v":44.8},{"i":119,"v":50},{"i":122,"v":57.3},{"i":124,"v":63.5},{"i":127,"v":60.4},{"i":130,"v":65.6},{"i":133,"v":67.7},{"i":135,"v":69.8},{"i":138,"v":67.7},{"i":141,"v":63.5},{"i":143,"v":67.7},{"i":146,"v":70.8},{"i":149,"v":60.4},{"i":152,"v":65.6},{"i":154,"v":69.8},{"i":157,"v":65.6},{"i":160,"v":67.7},{"i":163,"v":69.8},{"i":165,"v":74},{"i":168,"v":69.8},{"i":171,"v":63.5},{"i":173,"v":53.1},{"i":176,"v":44.8},{"i":179,"v":34.4},{"i":182,"v":29.2},{"i":184,"v":26},{"i":187,"v":19.8},{"i":190,"v":26},{"i":192,"v":34.4},{"i":195,"v":44.8},{"i":198,"v":53.1},{"i":201,"v":46.9},{"i":203,"v":39.6},{"i":206,"v":42.7},{"i":209,"v":50},{"i":211,"v":57.3},{"i":214,"v":63.5},{"i":217,"v":57.3},{"i":220,"v":67.7},{"i":222,"v":57.3},{"i":225,"v":34.4},{"i":228,"v":26},{"i":230,"v":39.6},{"i":233,"v":50},{"i":236,"v":57.3},{"i":239,"v":65.6},{"i":241,"v":63.5},{"i":244,"v":57.3},{"i":247,"v":32.3},{"i":250,"v":42.7},{"i":252,"v":50},{"i":255,"v":44.8},{"i":258,"v":50},{"i":260,"v":53.1},{"i":263,"v":55.2},{"i":266,"v":46.9},{"i":269,"v":42.7},{"i":271,"v":38.5},{"i":274,"v":44.8},{"i":277,"v":53.1},{"i":279,"v":44.8},{"i":282,"v":48.9},{"i":285,"v":53.1},{"i":288,"v":46.9},{"i":290,"v":53.1},{"i":293,"v":44.8},{"i":296,"v":29.2},{"i":298,"v":21.9},{"i":301,"v":15.6},{"i":304,"v":18.8},{"i":307,"v":26},{"i":309,"v":30.2},{"i":312,"v":34.4},{"i":315,"v":36.5},{"i":318,"v":32.3},{"i":320,"v":40.6},{"i":323,"v":36.5},{"i":326,"v":44.8},{"i":328,"v":38.5},{"i":330,"v":40.5}],
"rsitrend":[{"i":304,"v":17},{"i":342,"v":43}],
"rsilv":[{"v":70},{"v":50},{"v":30}]
},
"vconcat":[
{
"width":1660,"height":491,
"title":{"text":"▼ GBPJPY,H4  179.277 179.396 179.233 179.346","anchor":"start","frame":"group","offset":-14,"dx":6,"fontSize":10.5,"fontWeight":"normal","font":"Liberation Sans","color":"black"},
"layer":[
{"data":{"name":"levels"},"transform":[{"filter":"datum.t=='line'"}],"mark":{"type":"rule","color":"black","strokeWidth":2},
 "encoding":{"y":{"field":"p","type":"quantitative","title":null,"scale":{"domain":[178.679,189.307],"nice":false,"zero":false},
  "axis":{"orient":"right","values":[188.73,188.03,187.31,186.59,185.89,185.17,184.45,183.75,183.03,182.31,181.59,180.89,180.17,179.45,178.75],"tickCount":30,"format":".3f","tickSize":3,"labelPadding":2,"labelBaseline":"middle","labelOverlap":false,"title":null}}}},
{"data":{"name":"levels"},"transform":[{"filter":"datum.t=='res'"}],"mark":{"type":"rule","color":"#ff0000","strokeWidth":1,"strokeDash":[16,8]},
 "encoding":{"y":{"field":"p","type":"quantitative","title":null}}},
{"data":{"name":"levels"},"transform":[{"filter":"datum.t=='sup'"}],"mark":{"type":"rule","color":"#008000","strokeWidth":1,"strokeDash":[16,8]},
 "encoding":{"y":{"field":"p","type":"quantitative","title":null}}},
{"data":{"name":"levels"},"transform":[{"filter":"datum.t=='bid'"}],"mark":{"type":"rule","color":"#c0c0c0","strokeWidth":1},
 "encoding":{"y":{"field":"p","type":"quantitative","title":null}}},
{"data":{"name":"candles"},"mark":{"type":"rule","color":"black","strokeWidth":1},
 "encoding":{"x":{"field":"i","type":"quantitative","scale":{"domain":[-0.25,414.75],"nice":false,"zero":false},"axis":null},
  "y":{"field":"l","type":"quantitative","title":null},"y2":{"field":"h"}}},
{"data":{"name":"candles"},"mark":{"type":"bar","size":3,"stroke":"black","strokeWidth":0.6},
 "encoding":{"x":{"field":"i","type":"quantitative","axis":null},
  "y":{"field":"o","type":"quantitative","title":null},"y2":{"field":"c"},
  "fill":{"condition":{"test":"datum.c >= datum.o","value":"#008000"},"value":"#ff0000"}}},
{"data":{"name":"ma200"},"mark":{"type":"line","color":"#d2691e","strokeWidth":2,"interpolate":"monotone"},
 "encoding":{"x":{"field":"i","type":"quantitative","axis":null},"y":{"field":"v","type":"quantitative","title":null}}},
{"data":{"name":"ma50"},"mark":{"type":"line","color":"#00ff00","strokeWidth":2,"interpolate":"monotone"},
 "encoding":{"x":{"field":"i","type":"quantitative","axis":null},"y":{"field":"v","type":"quantitative","title":null}}},
{"data":{"name":"trend"},"mark":{"type":"line","color":"black","strokeWidth":2},
 "encoding":{"x":{"field":"i","type":"quantitative","axis":null},"y":{"field":"p","type":"quantitative","title":null},"detail":{"field":"id"}}},
{"data":{"name":"sr"},"mark":{"type":"text","align":"right","baseline":"alphabetic","dy":-3,"fontSize":20,"font":"Liberation Sans"},
 "encoding":{"x":{"datum":414.3,"type":"quantitative","axis":null},"y":{"field":"p","type":"quantitative","title":null},"text":{"field":"label"},
  "color":{"condition":{"test":"datum.t=='sup'","value":"#008000"},"value":"#ff0000"}}},
{"data":{"name":"tags"},"mark":{"type":"point","filled":true,"opacity":1,"strokeWidth":0,"size":1444,"shape":"M-1,-0.3L1,-0.3L1,0.3L-1,0.3Z"},
 "encoding":{"x":{"datum":419.5,"type":"quantitative","axis":null},"y":{"field":"p","type":"quantitative","title":null},
  "color":{"condition":[{"test":"datum.t=='res'","value":"#ff0000"},{"test":"datum.t=='sup'","value":"#008000"}],"value":"black"}}},
{"data":{"name":"tags"},"mark":{"type":"text","align":"center","baseline":"middle","fontSize":9.5,"color":"white","font":"Liberation Sans"},
 "encoding":{"x":{"datum":419.5,"type":"quantitative","axis":null},"y":{"field":"p","type":"quantitative","title":null},"text":{"field":"txt"}}}
]
},
{
"width":1660,"height":122,
"title":{"text":"MACD Histogram (12,26,9) With Filter MA(13) 0.06410 -0.45000 -0.38590","anchor":"start","frame":"group","offset":-14,"dx":6,"fontSize":10.5,"fontWeight":"normal","font":"Liberation Sans","color":"black"},
"layer":[
{"data":{"name":"hist"},"mark":{"type":"bar","size":2},
 "encoding":{"x":{"field":"i","type":"quantitative","scale":{"domain":[-0.25,414.75],"nice":false,"zero":false},"axis":null},
  "y":{"field":"h","type":"quantitative","title":null,"scale":{"domain":[-0.957,0.551],"nice":false,"zero":false},
   "axis":{"orient":"right","values":[0.5142,0,-0.91982],"tickCount":10,"labelExpr":"datum.value > 0.5 ? '0.5142' : (datum.value < -0.5 ? '-0.91982' : '0.00')","tickSize":3,"labelPadding":1,"labelOverlap":false,"title":null}},
  "y2":{"datum":0},
  "fill":{"condition":[{"test":"datum.d=='g'","value":"#22c022"},{"test":"datum.d=='r'","value":"#ff0000"}],"value":"#808080"}}},
{"data":{"name":"signal"},"mark":{"type":"line","color":"#ff0000","strokeWidth":1,"interpolate":"monotone"},
 "encoding":{"x":{"field":"i","type":"quantitative","axis":null},"y":{"field":"v","type":"quantitative","title":null}}},
{"data":{"name":"macd"},"mark":{"type":"line","color":"black","strokeWidth":1,"interpolate":"monotone"},
 "encoding":{"x":{"field":"i","type":"quantitative","axis":null},"y":{"field":"v","type":"quantitative","title":null}}},
{"data":{"name":"macdtrend"},"mark":{"type":"line","color":"black","strokeWidth":2},
 "encoding":{"x":{"field":"i","type":"quantitative","axis":null},"y":{"field":"v","type":"quantitative","title":null}}}
]
},
{
"width":1660,"height":115,
"title":{"text":"RSI(14) 40.5193","anchor":"start","frame":"group","offset":-14,"dx":6,"fontSize":10.5,"fontWeight":"normal","font":"Liberation Sans","color":"black"},
"layer":[
{"data":{"name":"rsilv"},"mark":{"type":"rule","color":"#c0c0c0","strokeWidth":1,"strokeDash":[4,3]},
 "encoding":{"y":{"field":"v","type":"quantitative","title":null,"scale":{"domain":[-6.9,106.9],"nice":false,"zero":false},
  "axis":{"orient":"right","values":[100,70,50,30,0],"tickCount":10,"tickSize":3,"labelPadding":2,"labelOverlap":false,"title":null}}}},
{"data":{"name":"rsi"},"mark":{"type":"line","color":"black","strokeWidth":1},
 "encoding":{"x":{"field":"i","type":"quantitative","title":null,"scale":{"domain":[-0.25,414.75],"nice":false,"zero":false},
  "axis":{"orient":"bottom","title":null,"values":[0,16,32,48,64,80,96,112,128,144,160,176,192,208,224,240,256,272,288,304,320],"tickCount":50,
   "labelExpr":"['12 Oct 2015','14 Oct 20:00','19 Oct 12:00','22 Oct 04:00','26 Oct 20:00','29 Oct 12:00','3 Nov 04:00','5 Nov 20:00','10 Nov 12:00','13 Nov 04:00','17 Nov 20:00','20 Nov 12:00','25 Nov 04:00','27 Nov 20:00','2 Dec 12:00','7 Dec 04:00','9 Dec 20:00','14 Dec 12:00','17 Dec 04:00','21 Dec 20:00','24 Dec 12:00'][round(datum.value/16)]",
   "labelAlign":"left","labelOffset":3,"tickSize":4,"labelPadding":1,"labelFontSize":10,"labelOverlap":false}},
  "y":{"field":"v","type":"quantitative","title":null}}},
{"data":{"name":"rsitrend"},"mark":{"type":"line","color":"black","strokeWidth":2},
 "encoding":{"x":{"field":"i","type":"quantitative","title":null},"y":{"field":"v","type":"quantitative","title":null}}}
]
}
]
}
